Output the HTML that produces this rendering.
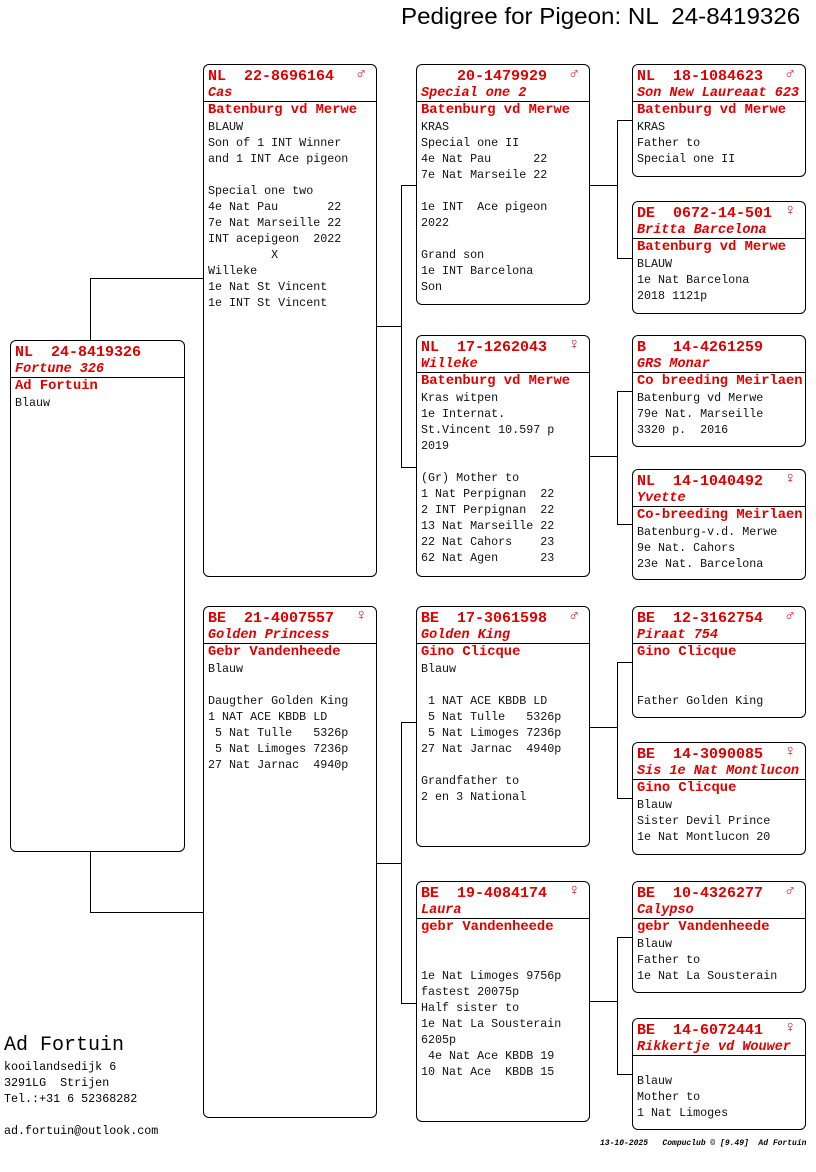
<!DOCTYPE html>
<html><head><meta charset="utf-8"><style>
body{margin:0;width:816px;height:1172px;background:#fff;position:relative;overflow:hidden;font-family:"Liberation Mono",monospace;}
.b{position:absolute;border:1px solid #000;border-radius:6px;box-sizing:border-box;background:#fff;}
.hd{position:absolute;left:4px;top:3px;font-size:15px;font-weight:bold;color:#e00000;white-space:pre;line-height:18px;}
.sx{position:absolute;right:10px;top:0px;font-size:16px;color:#e00000;font-weight:bold;}
.nm{position:absolute;left:4px;top:21px;font-size:13.5px;font-style:italic;font-weight:bold;color:#e00000;white-space:pre;line-height:15px;}
.ln{position:absolute;left:0;right:0;top:36px;border-top:1px solid #000;}
.bd{position:absolute;left:4px;top:37px;font-size:11.7px;line-height:16px;white-space:pre;color:#111;}
.ow{font-size:13.8px;font-weight:bold;color:#e00000;}
.h{position:absolute;border-top:1px solid #000;height:0;}
.v{position:absolute;border-left:1px solid #000;width:0;}
</style></head><body>
<div style="position:absolute;left:401px;top:3px;font-family:'Liberation Sans',sans-serif;font-size:23px;white-space:pre;transform-origin:0 0;transform:scaleX(1.05);">Pedigree for Pigeon: NL  24-8419326</div>

<!-- connectors -->
<div class="v" style="left:90px;top:278px;height:62px"></div>
<div class="h" style="left:90px;top:278px;width:113px"></div>
<div class="v" style="left:90px;top:852px;height:60px"></div>
<div class="h" style="left:90px;top:912px;width:113px"></div>

<div class="h" style="left:376px;top:326px;width:25px"></div>
<div class="v" style="left:401px;top:185px;height:282px"></div>
<div class="h" style="left:401px;top:185px;width:15px"></div>
<div class="h" style="left:401px;top:467px;width:15px"></div>

<div class="h" style="left:376px;top:863px;width:25px"></div>
<div class="v" style="left:401px;top:722px;height:281px"></div>
<div class="h" style="left:401px;top:722px;width:15px"></div>
<div class="h" style="left:401px;top:1003px;width:15px"></div>

<div class="h" style="left:589px;top:185px;width:28px"></div>
<div class="v" style="left:617px;top:120px;height:138px"></div>
<div class="h" style="left:617px;top:120px;width:15px"></div>
<div class="h" style="left:617px;top:258px;width:15px"></div>

<div class="h" style="left:589px;top:456px;width:28px"></div>
<div class="v" style="left:617px;top:391px;height:133px"></div>
<div class="h" style="left:617px;top:391px;width:15px"></div>
<div class="h" style="left:617px;top:524px;width:15px"></div>

<div class="h" style="left:589px;top:727px;width:28px"></div>
<div class="v" style="left:617px;top:662px;height:136px"></div>
<div class="h" style="left:617px;top:662px;width:15px"></div>
<div class="h" style="left:617px;top:798px;width:15px"></div>

<div class="h" style="left:589px;top:1001px;width:28px"></div>
<div class="v" style="left:617px;top:937px;height:137px"></div>
<div class="h" style="left:617px;top:937px;width:15px"></div>
<div class="h" style="left:617px;top:1074px;width:15px"></div>

<!-- root -->
<div class="b" style="left:10px;top:340px;width:175px;height:512px">
<div class="hd">NL  24-8419326</div><div class="nm">Fortune 326</div><div class="ln"></div>
<div class="bd"><span class="ow">Ad Fortuin</span>
Blauw</div></div>

<!-- gen1 -->
<div class="b" style="left:203px;top:64px;width:174px;height:513px">
<div class="hd">NL  22-8696164</div><div class="sx">♂</div><div class="nm">Cas</div><div class="ln"></div>
<div class="bd"><span class="ow">Batenburg vd Merwe</span>
BLAUW
Son of 1 INT Winner
and 1 INT Ace pigeon

Special one two
4e Nat Pau       22
7e Nat Marseille 22
INT acepigeon  2022
         X
Willeke
1e Nat St Vincent
1e INT St Vincent</div></div>

<div class="b" style="left:203px;top:606px;width:174px;height:512px">
<div class="hd">BE  21-4007557</div><div class="sx">♀</div><div class="nm">Golden Princess</div><div class="ln"></div>
<div class="bd"><span class="ow">Gebr Vandenheede</span>
Blauw

Daugther Golden King
1 NAT ACE KBDB LD
 5 Nat Tulle   5326p
 5 Nat Limoges 7236p
27 Nat Jarnac  4940p</div></div>

<!-- gen2 -->
<div class="b" style="left:416px;top:64px;width:174px;height:241px">
<div class="hd">    20-1479929</div><div class="sx">♂</div><div class="nm">Special one 2</div><div class="ln"></div>
<div class="bd"><span class="ow">Batenburg vd Merwe</span>
KRAS
Special one II
4e Nat Pau      22
7e Nat Marseile 22

1e INT  Ace pigeon
2022

Grand son
1e INT Barcelona
Son</div></div>

<div class="b" style="left:416px;top:335px;width:174px;height:242px">
<div class="hd">NL  17-1262043</div><div class="sx">♀</div><div class="nm">Willeke</div><div class="ln"></div>
<div class="bd"><span class="ow">Batenburg vd Merwe</span>
Kras witpen
1e Internat.
St.Vincent 10.597 p
2019

(Gr) Mother to
1 Nat Perpignan  22
2 INT Perpignan  22
13 Nat Marseille 22
22 Nat Cahors    23
62 Nat Agen      23</div></div>

<div class="b" style="left:416px;top:606px;width:174px;height:241px">
<div class="hd">BE  17-3061598</div><div class="sx">♂</div><div class="nm">Golden King</div><div class="ln"></div>
<div class="bd"><span class="ow">Gino Clicque</span>
Blauw

 1 NAT ACE KBDB LD
 5 Nat Tulle   5326p
 5 Nat Limoges 7236p
27 Nat Jarnac  4940p

Grandfather to
2 en 3 National</div></div>

<div class="b" style="left:416px;top:881px;width:174px;height:241px">
<div class="hd">BE  19-4084174</div><div class="sx">♀</div><div class="nm">Laura</div><div class="ln"></div>
<div class="bd"><span class="ow">gebr Vandenheede</span>


1e Nat Limoges 9756p
fastest 20075p
Half sister to
1e Nat La Sousterain
6205p
 4e Nat Ace KBDB 19
10 Nat Ace  KBDB 15</div></div>

<!-- gen3 -->
<div class="b" style="left:632px;top:64px;width:174px;height:113px">
<div class="hd">NL  18-1084623</div><div class="sx">♂</div><div class="nm">Son New Laureaat 623</div><div class="ln"></div>
<div class="bd"><span class="ow">Batenburg vd Merwe</span>
KRAS
Father to
Special one II</div></div>

<div class="b" style="left:632px;top:201px;width:174px;height:113px">
<div class="hd">DE  0672-14-501</div><div class="sx">♀</div><div class="nm">Britta Barcelona</div><div class="ln"></div>
<div class="bd"><span class="ow">Batenburg vd Merwe</span>
BLAUW
1e Nat Barcelona
2018 1121p</div></div>

<div class="b" style="left:632px;top:335px;width:174px;height:112px">
<div class="hd">B   14-4261259</div><div class="nm">GRS Monar</div><div class="ln"></div>
<div class="bd"><span class="ow">Co breeding Meirlaen</span>
Batenburg vd Merwe
79e Nat. Marseille
3320 p.  2016</div></div>

<div class="b" style="left:632px;top:469px;width:174px;height:111px">
<div class="hd">NL  14-1040492</div><div class="sx">♀</div><div class="nm">Yvette</div><div class="ln"></div>
<div class="bd"><span class="ow">Co-breeding Meirlaen</span>
Batenburg-v.d. Merwe
9e Nat. Cahors
23e Nat. Barcelona</div></div>

<div class="b" style="left:632px;top:606px;width:174px;height:112px">
<div class="hd">BE  12-3162754</div><div class="sx">♂</div><div class="nm">Piraat 754</div><div class="ln"></div>
<div class="bd"><span class="ow">Gino Clicque</span>


Father Golden King</div></div>

<div class="b" style="left:632px;top:742px;width:174px;height:113px">
<div class="hd">BE  14-3090085</div><div class="sx">♀</div><div class="nm">Sis 1e Nat Montlucon</div><div class="ln"></div>
<div class="bd"><span class="ow">Gino Clicque</span>
Blauw
Sister Devil Prince
1e Nat Montlucon 20</div></div>

<div class="b" style="left:632px;top:881px;width:174px;height:112px">
<div class="hd">BE  10-4326277</div><div class="sx">♂</div><div class="nm">Calypso</div><div class="ln"></div>
<div class="bd"><span class="ow">gebr Vandenheede</span>
Blauw
Father to
1e Nat La Sousterain</div></div>

<div class="b" style="left:632px;top:1018px;width:174px;height:112px">
<div class="hd">BE  14-6072441</div><div class="sx">♀</div><div class="nm">Rikkertje vd Wouwer</div><div class="ln"></div>
<div class="bd" style="top:54px">Blauw
Mother to
1 Nat Limoges</div></div>

<!-- footer -->
<div style="position:absolute;left:4px;top:1034px;font-size:20px;white-space:pre;">Ad Fortuin</div>
<div style="position:absolute;left:4px;top:1059px;font-size:11.7px;line-height:16px;white-space:pre;">kooilandsedijk 6
3291LG  Strijen
Tel.:+31 6 52368282

ad.fortuin@outlook.com</div>
<div style="position:absolute;left:600px;top:1139px;font-size:8px;font-style:italic;font-weight:bold;white-space:pre;">13-10-2025   Compuclub © [9.49]  Ad Fortuin</div>
</body></html>
